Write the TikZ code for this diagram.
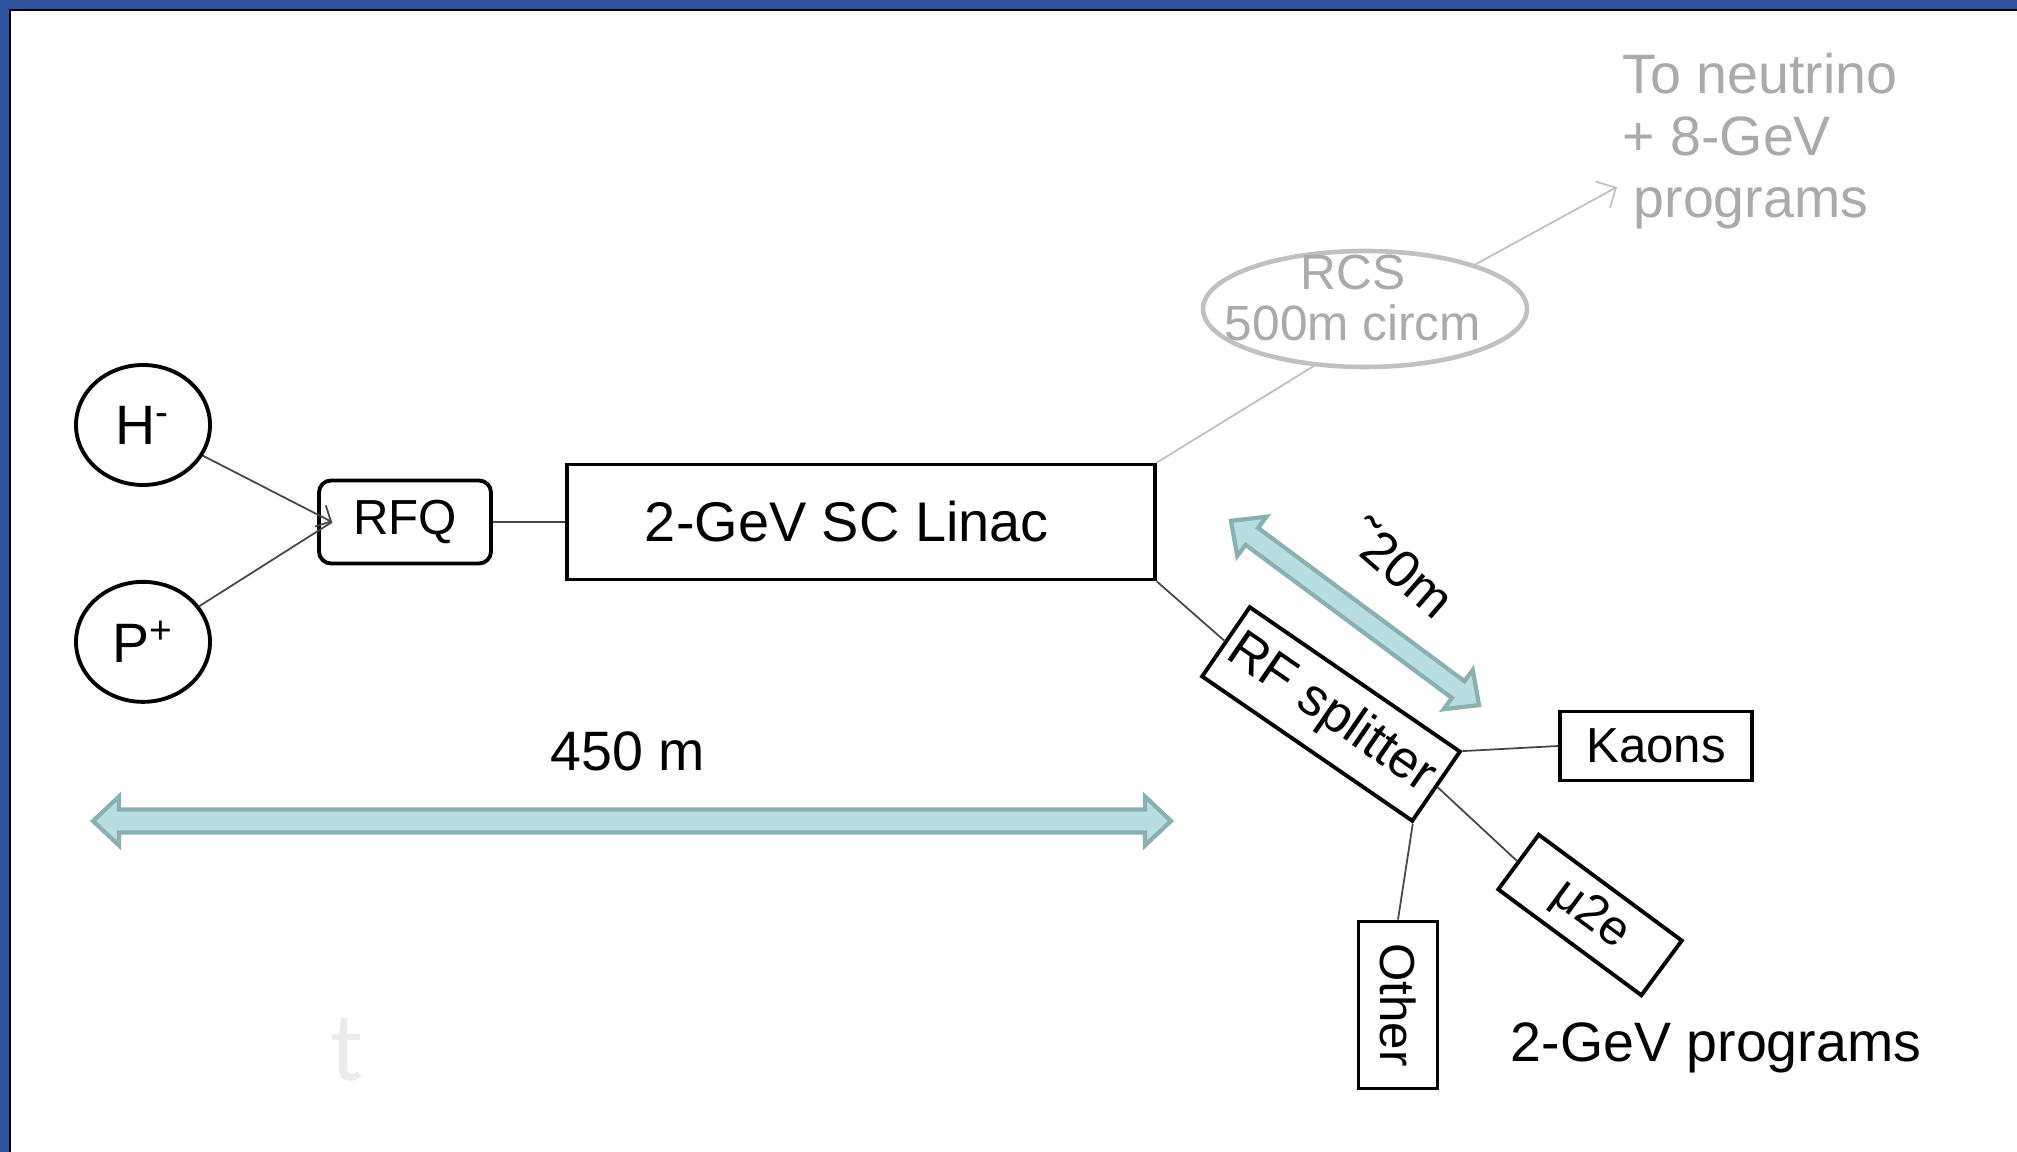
\documentclass[tikz,border=0pt]{standalone}
\usepackage{fontspec}
\setmainfont{Liberation Sans}
\newfontfamily\ghostfont{Carlito}
\usetikzlibrary{positioning, arrows.meta, shapes.geometric}
\definecolor{framebl}{RGB}{46,81,160}
\definecolor{spanfill}{RGB}{184,222,226}
\definecolor{spanline}{RGB}{138,176,176}
\definecolor{rcsgray}{RGB}{192,192,192}
\definecolor{fadedgray}{RGB}{170,170,170}
\definecolor{feedgray}{RGB}{70,70,70}

\begin{document}
\begin{tikzpicture}[x=0.1mm, y=-0.1mm,
    txt/.style={font=\fontsize{15.8}{17.6}\selectfont, inner sep=0pt},
    ion/.style={txt, draw, ellipse, line width=1.1pt, minimum width=13.4mm, minimum height=12mm},
    box/.style={draw, line width=1.1pt, inner sep=0pt, font=\fontsize{14}{16}\selectfont},
    feed/.style={feedgray, line width=0.5pt},
    rcsline/.style={rcsgray, line width=0.5pt},
    span/.style={draw=spanline, fill=spanfill, line width=1.2pt, line join=miter}]
    \useasboundingbox (0,0) rectangle (2017,1152);
    %frame
    \fill[framebl] (0,0) rectangle (2017,1152);
    \fill[white] (9,9) rectangle (2017,1152);
    \draw[line width=0.2mm] (10,1152) -- (10,10) -- (2017,10);

    %sources and front end
    \node (hminus) [ion] at (143,425) {H\textsuperscript{-}};
    \node (pplus) [ion, below=9.3mm of hminus] {P\textsuperscript{+}};
    \node (rfq) [box, rounded corners=1.2mm, minimum width=17.2mm, minimum height=8.3mm] at (405,522) {RFQ};
    \node (linac) [box, minimum width=58.8mm, minimum height=11.5mm, right=7.2mm of rfq,
        font=\fontsize{15.9}{17}\selectfont] {\hspace*{-2.8mm}2-GeV SC Linac};

    %8-GeV branch
    \node (rcs) [draw=rcsgray, ellipse, line width=1.3pt, minimum width=32.4mm, minimum height=11.6mm] at (1365,309) {};
    \node (rcslabel) [txt, fadedgray, align=center, font=\fontsize{14.1}{14.5}\selectfont] at (1353,298) {RCS\\500m circm};
    \coordinate (nutip) at (1617,187);
    \node (nulabel) [txt, fadedgray, align=left, anchor=west] at (1622,141) {To neutrino\\+ 8-GeV\\\hspace{1.1mm}programs};

    %2-GeV branch
    \node (split) [box, rotate=-34.5, minimum width=25.5mm, minimum height=8.4mm, font=\fontsize{15}{17}\selectfont] at (1331,714) {RF splitter};
    \node (kaons) [box, minimum width=19.2mm, minimum height=6.9mm] at (1656,746) {Kaons};
    \node (mu2e) [box, rotate=-36.5, minimum width=17.8mm, minimum height=6.8mm] at (1590,915) {μ2e};
    \node (other) [box, rotate=-90, minimum width=16.7mm, minimum height=7.9mm] at (1398,1005) {Other};
    \node (progs) [txt] at (1716,1048) {2-GeV programs};

    %lengths
    \draw[span] (93,821) -- ++(26,-24.5) -- ++(0,13) -- (1145,809.5) -- ++(0,-13) -- (1171,821)
        -- ++(-26,24.5) -- ++(0,-13) -- (119,832.5) -- ++(0,13) -- cycle;
    \node (len450) [txt] at (628,751) {450 m};
    \begin{scope}[shift={(1355,613)}, rotate=-36.6]
        \draw[span] (-154.5,0) -- ++(26,-24.5) -- ++(0,14) -- (128.5,-10.5) -- ++(0,-14) -- (154.5,0)
            -- ++(-26,24.5) -- ++(0,-14) -- (-128.5,10.5) -- ++(0,14) -- cycle;
    \end{scope}
    \node (len20) [txt, rotate=-41, font=\fontsize{15}{17}\selectfont] at (1402,568) {\char"02DC 20m};
    \node (ghost) [font=\ghostfont\fontsize{28}{30}\selectfont, text=black!8] at (347,1050) {t};

    \draw[feed, -{Straight Barb[length=1.2mm, width=2.4mm]}] (hminus) -- ([xshift=1.5mm]rfq.west);
    \draw[feed] (pplus) -- ([xshift=1.5mm]rfq.west);
    \draw[feed] (rfq) -- (linac);
    \draw[rcsline] (linac.north east) -- (rcs.-132);
    \draw[rcsline, -{Straight Barb[length=1.5mm, width=3mm]}] (rcs.22) -- (nutip);
    \draw[feed] (linac.south east) -- (split.west);
    \draw[feed] (split.north east) -- (kaons.west);
    \draw[feed] (split.east) -- (mu2e.west);
    \draw[feed] (split.south east) -- (other.west);
\end{tikzpicture}
\end{document}
